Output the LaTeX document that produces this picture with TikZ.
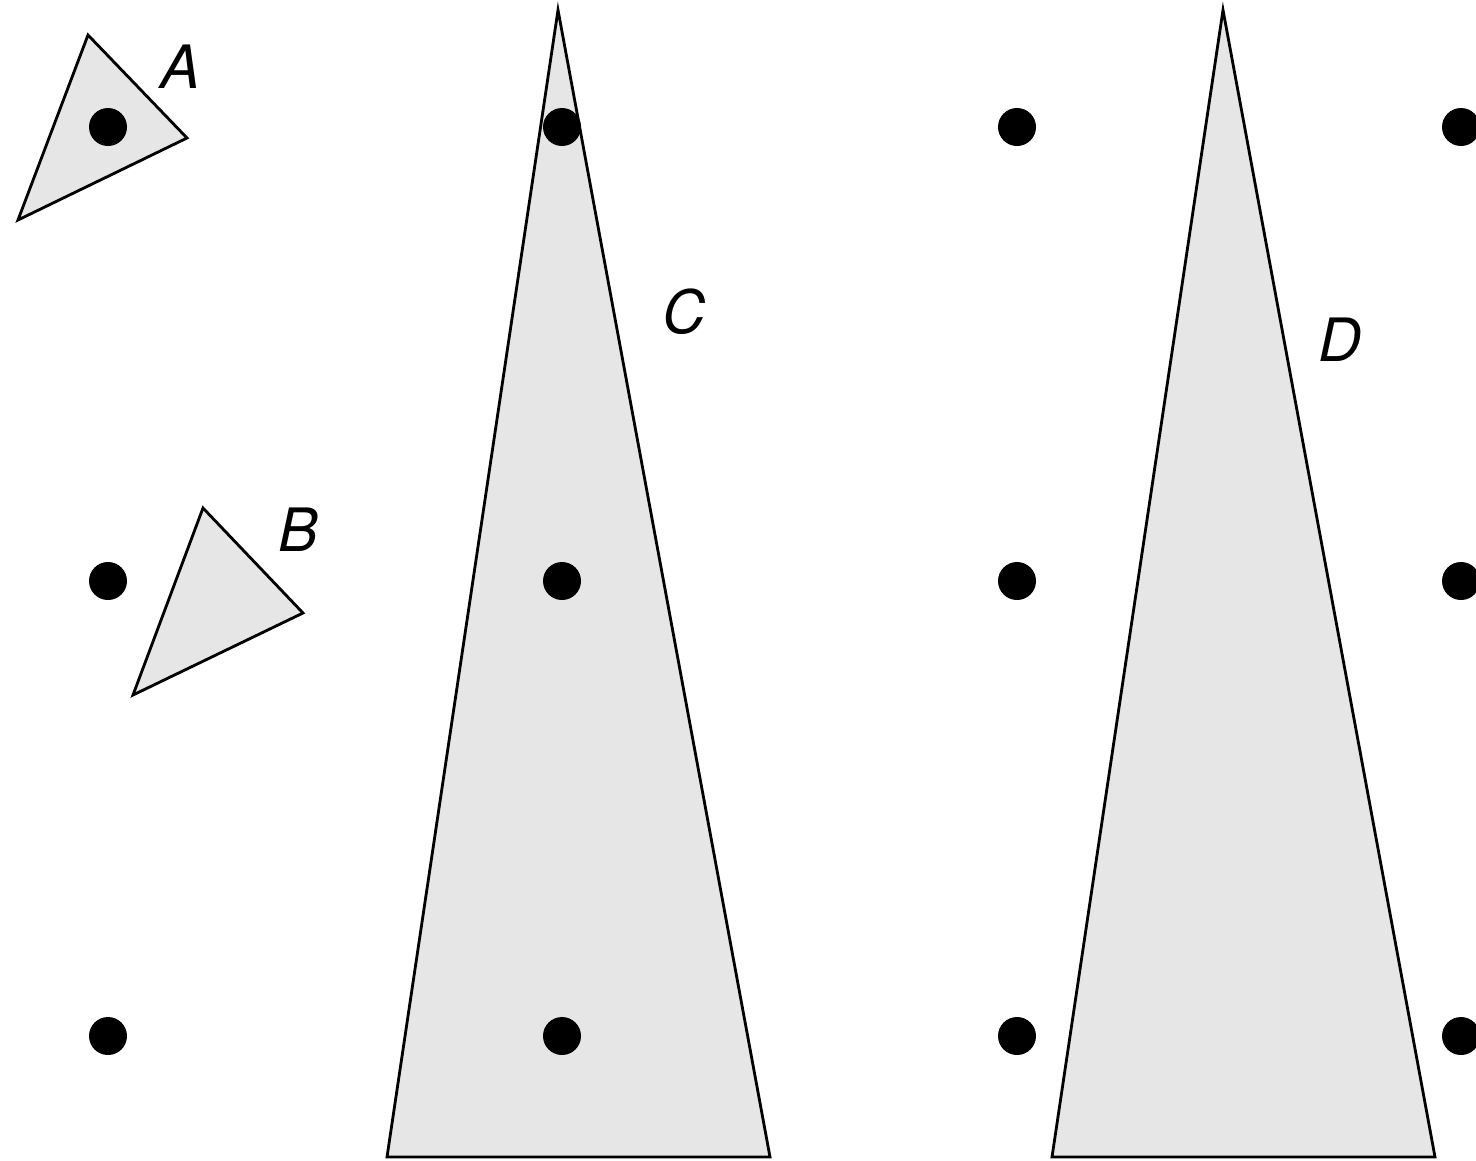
\documentclass[tikz,border=0pt]{standalone}
\usepackage{fontspec}
\setsansfont{TeX Gyre Heros}
\usetikzlibrary{positioning}
\definecolor{shade}{HTML}{E6E6E6}

\begin{document}
\begin{tikzpicture}[
    x=0.01cm, y=-0.01cm,
    every node/.style={font=\sffamily\itshape\fontsize{17}{20}\selectfont},
    piece/.style={fill=shade, draw=black, line width=0.8pt},
    spot/.style={fill=black},
]
\useasboundingbox (0, 0) rectangle (1476, 1160);
\clip (0, 0) rectangle (1476, 1160);

% small tilted triangles
\draw[piece] (88, 35) -- (187, 138) -- (18, 220) -- cycle;
\draw[piece] (203, 508) -- (303, 613) -- (133, 695) -- cycle;

% tall triangles
\draw[piece] (558, 10) -- (770, 1157) -- (387, 1157) -- cycle;
\draw[piece] (1223, 10) -- (1435, 1157) -- (1052, 1157) -- cycle;

% grid of dots
\foreach \x in {108, 562, 1017, 1461}{
    \foreach \y in {127, 581, 1036}{
        \fill[spot] (\x, \y) circle (19);
    }
}

\node (labA) at (180, 67) {A};
\node (labB) at (298, 530) {B};
\node (labC) at (684, 312) {C};
\node (labD) at (1340, 340) {D};

\end{tikzpicture}
\end{document}
